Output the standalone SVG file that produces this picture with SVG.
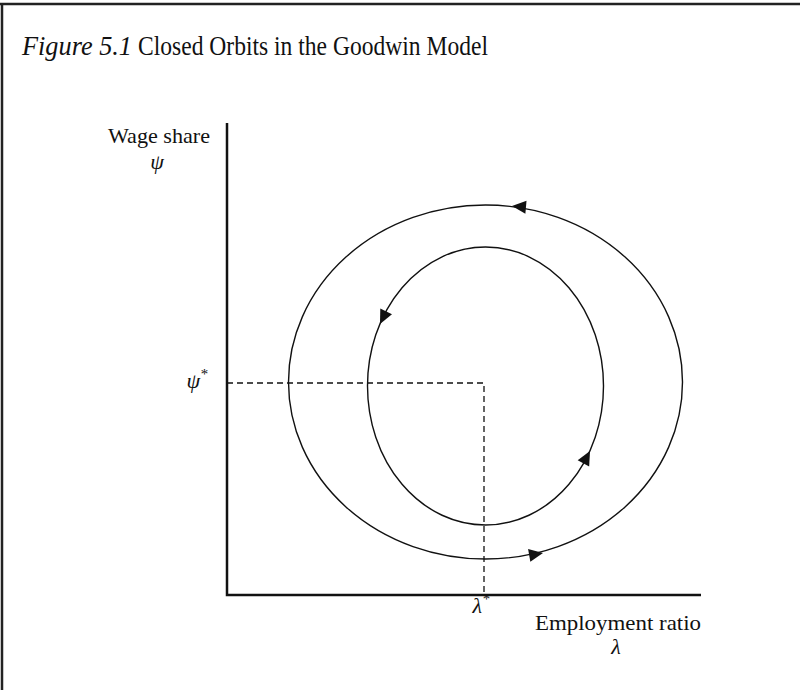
<svg xmlns="http://www.w3.org/2000/svg" width="800" height="690" viewBox="0 0 800 690">
<style>
text{font-family:"Liberation Serif","Times New Roman",serif;fill:#111}
.lbl{font-size:22px}
.axis{stroke:#111;stroke-width:2.5;fill:none}
.orbit{stroke:#111;stroke-width:1.4;fill:none}
.dash{stroke:#111;stroke-width:1.3;stroke-dasharray:6,4;fill:none}
</style>
<defs>
<path id="ah" d="M0,0 L-14,-6.5 L-14,6.5 Z" fill="#111"/>
</defs>
<rect width="800" height="690" fill="#fff"/>
<g id="frame">
<line x1="0" y1="4" x2="800" y2="4" stroke="#222" stroke-width="2.5"/>
<line x1="2" y1="4" x2="2" y2="690" stroke="#222" stroke-width="2.5"/>
</g>
<g id="title">
<text x="22" y="55" font-size="27" font-style="italic" textLength="110" lengthAdjust="spacingAndGlyphs">Figure 5.1</text>
<text x="138" y="55" font-size="27" textLength="350" lengthAdjust="spacingAndGlyphs">Closed Orbits in the Goodwin Model</text>
</g>
<g id="axes">
<polyline class="axis" points="227,123 227,595 701,595"/>
</g>
<g id="labels">
<text class="lbl" x="108" y="143" textLength="102" lengthAdjust="spacingAndGlyphs">Wage share</text>
<text class="lbl" x="157" y="169" text-anchor="middle" font-style="italic">ψ</text>
<text class="lbl" x="197" y="388" text-anchor="middle" font-style="italic">ψ<tspan dy="-9" font-size="15">*</tspan></text>
<text class="lbl" x="481" y="613" text-anchor="middle" font-style="italic">λ<tspan dy="-9" font-size="15">*</tspan></text>
<text class="lbl" x="535" y="630" textLength="166" lengthAdjust="spacingAndGlyphs">Employment ratio</text>
<text class="lbl" x="616" y="654" text-anchor="middle" font-style="italic">λ</text>
</g>
<g id="connectors">
<path class="dash" d="M227,383 H484 V595"/>
<ellipse id="outer-orbit" class="orbit" cx="485.5" cy="382" rx="197" ry="177"/>
<ellipse id="inner-orbit" class="orbit" cx="485.5" cy="386" rx="118" ry="139"/>
<use href="#ah" transform="translate(512,206) rotate(185)"/>
<use href="#ah" transform="translate(543,553) rotate(-10)"/>
<use href="#ah" transform="translate(380,324) rotate(116)"/>
<use href="#ah" transform="translate(590,451) rotate(-62)"/>
</g>
</svg>
